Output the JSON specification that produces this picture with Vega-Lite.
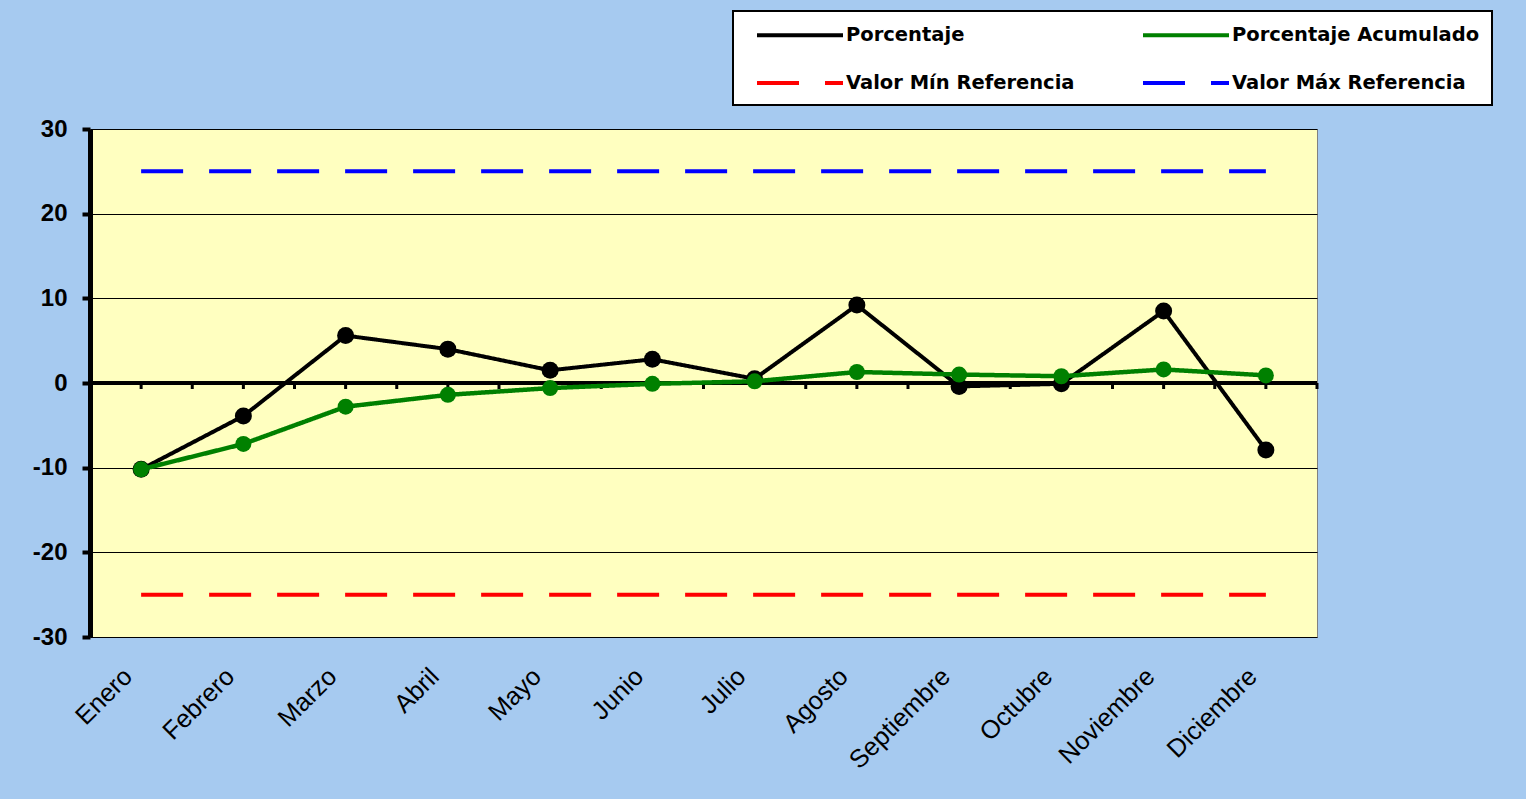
{
  "$schema": "https://vega.github.io/schema/vega-lite/v6.json",
  "width": 1227,
  "height": 508,
  "autosize": {"type": "none"},
  "padding": {"left": 90, "top": 129, "right": 209, "bottom": 162},
  "background": "#A6CAF0",
  "config": {
    "view": {"fill": "#FFFFC0", "stroke": "#808080", "strokeWidth": 1},
    "font": "Liberation Sans",
    "legend": {
      "orient": "none", "legendX": 643, "legendY": -118,
      "columns": 2, "direction": "horizontal",
      "fillColor": "#FFFFFF", "strokeColor": "#000000", "strokeWidth": 2,
      "padding": 12, "symbolType": "M-4.3,0L4.3,0", "symbolSize": 400, "symbolStrokeWidth": 4,
      "symbolOffset": 43,
      "labelFont": "DejaVu Sans", "labelFontWeight": "bold", "labelFontSize": 19.5,
      "labelColor": "#000000", "labelOffset": 34, "labelLimit": 400,
      "columnPadding": 56, "rowPadding": 26, "title": null
    }
  },
  "datasets": {
    "months": [
      {"mes": "Enero"}, {"mes": "Febrero"}, {"mes": "Marzo"}, {"mes": "Abril"},
      {"mes": "Mayo"}, {"mes": "Junio"}, {"mes": "Julio"}, {"mes": "Agosto"},
      {"mes": "Septiembre"}, {"mes": "Octubre"}, {"mes": "Noviembre"}, {"mes": "Diciembre"}
    ],
    "series": [
      {"mes": "Enero", "serie": "Porcentaje", "valor": -10.2},
      {"mes": "Febrero", "serie": "Porcentaje", "valor": -3.9},
      {"mes": "Marzo", "serie": "Porcentaje", "valor": 5.6},
      {"mes": "Abril", "serie": "Porcentaje", "valor": 4.0},
      {"mes": "Mayo", "serie": "Porcentaje", "valor": 1.5},
      {"mes": "Junio", "serie": "Porcentaje", "valor": 2.8},
      {"mes": "Julio", "serie": "Porcentaje", "valor": 0.5},
      {"mes": "Agosto", "serie": "Porcentaje", "valor": 9.2},
      {"mes": "Septiembre", "serie": "Porcentaje", "valor": -0.4},
      {"mes": "Octubre", "serie": "Porcentaje", "valor": -0.1},
      {"mes": "Noviembre", "serie": "Porcentaje", "valor": 8.5},
      {"mes": "Diciembre", "serie": "Porcentaje", "valor": -7.9},
      {"mes": "Enero", "serie": "Porcentaje Acumulado", "valor": -10.2},
      {"mes": "Febrero", "serie": "Porcentaje Acumulado", "valor": -7.2},
      {"mes": "Marzo", "serie": "Porcentaje Acumulado", "valor": -2.8},
      {"mes": "Abril", "serie": "Porcentaje Acumulado", "valor": -1.4},
      {"mes": "Mayo", "serie": "Porcentaje Acumulado", "valor": -0.6},
      {"mes": "Junio", "serie": "Porcentaje Acumulado", "valor": -0.1},
      {"mes": "Julio", "serie": "Porcentaje Acumulado", "valor": 0.2},
      {"mes": "Agosto", "serie": "Porcentaje Acumulado", "valor": 1.3},
      {"mes": "Septiembre", "serie": "Porcentaje Acumulado", "valor": 1.0},
      {"mes": "Octubre", "serie": "Porcentaje Acumulado", "valor": 0.8},
      {"mes": "Noviembre", "serie": "Porcentaje Acumulado", "valor": 1.6},
      {"mes": "Diciembre", "serie": "Porcentaje Acumulado", "valor": 0.9},
      {"mes": "Enero", "serie": "Valor Mín Referencia", "valor": -25},
      {"mes": "Febrero", "serie": "Valor Mín Referencia", "valor": -25},
      {"mes": "Marzo", "serie": "Valor Mín Referencia", "valor": -25},
      {"mes": "Abril", "serie": "Valor Mín Referencia", "valor": -25},
      {"mes": "Mayo", "serie": "Valor Mín Referencia", "valor": -25},
      {"mes": "Junio", "serie": "Valor Mín Referencia", "valor": -25},
      {"mes": "Julio", "serie": "Valor Mín Referencia", "valor": -25},
      {"mes": "Agosto", "serie": "Valor Mín Referencia", "valor": -25},
      {"mes": "Septiembre", "serie": "Valor Mín Referencia", "valor": -25},
      {"mes": "Octubre", "serie": "Valor Mín Referencia", "valor": -25},
      {"mes": "Noviembre", "serie": "Valor Mín Referencia", "valor": -25},
      {"mes": "Diciembre", "serie": "Valor Mín Referencia", "valor": -25},
      {"mes": "Enero", "serie": "Valor Máx Referencia", "valor": 25},
      {"mes": "Febrero", "serie": "Valor Máx Referencia", "valor": 25},
      {"mes": "Marzo", "serie": "Valor Máx Referencia", "valor": 25},
      {"mes": "Abril", "serie": "Valor Máx Referencia", "valor": 25},
      {"mes": "Mayo", "serie": "Valor Máx Referencia", "valor": 25},
      {"mes": "Junio", "serie": "Valor Máx Referencia", "valor": 25},
      {"mes": "Julio", "serie": "Valor Máx Referencia", "valor": 25},
      {"mes": "Agosto", "serie": "Valor Máx Referencia", "valor": 25},
      {"mes": "Septiembre", "serie": "Valor Máx Referencia", "valor": 25},
      {"mes": "Octubre", "serie": "Valor Máx Referencia", "valor": 25},
      {"mes": "Noviembre", "serie": "Valor Máx Referencia", "valor": 25},
      {"mes": "Diciembre", "serie": "Valor Máx Referencia", "valor": 25}
    ]
  },
  "encoding": {
    "x": {
      "field": "mes",
      "type": "nominal",
      "sort": ["Enero", "Febrero", "Marzo", "Abril", "Mayo", "Junio", "Julio", "Agosto", "Septiembre", "Octubre", "Noviembre", "Diciembre"],
      "scale": {"type": "band", "paddingInner": 0, "paddingOuter": 0},
      "axis": {
        "title": null, "orient": "bottom", "domain": false, "ticks": false, "grid": false,
        "labelAngle": -45, "labelAlign": "right", "labelBaseline": "middle",
        "labelFont": "Liberation Sans", "labelFontSize": 25.5, "labelColor": "#000000",
        "labelPadding": 35, "labelOffset": -13
      }
    }
  },
  "layer": [
    {
      "data": {"name": "months"},
      "mark": {"type": "rule", "color": "#000000", "strokeWidth": 4},
      "encoding": {
        "x": null,
        "y": {
          "datum": 0,
          "type": "quantitative",
          "scale": {"domain": [-30, 30], "nice": false},
          "axis": {
            "title": null, "values": [-30, -20, -10, 0, 10, 20, 30],
            "labelExpr": "'' + datum.value",
            "domain": true, "domainColor": "#000000", "domainWidth": 5,
            "ticks": true, "tickSize": 8, "tickWidth": 4, "tickColor": "#000000",
            "grid": true, "gridColor": "#000000", "gridWidth": 1,
            "labelFont": "Liberation Sans", "labelFontSize": 24, "labelFontWeight": "bold",
            "labelColor": "#000000", "labelPadding": 15
          }
        }
      }
    },
    {
      "data": {"name": "months"},
      "mark": {"type": "point", "shape": "M0,0L0,1", "size": 144, "filled": false, "stroke": "#000000", "strokeWidth": 3, "opacity": 1},
      "encoding": {
        "x": {"field": "mes", "type": "nominal", "bandPosition": 0.5, "sort": ["Enero", "Febrero", "Marzo", "Abril", "Mayo", "Junio", "Julio", "Agosto", "Septiembre", "Octubre", "Noviembre", "Diciembre"]},
        "y": {"datum": 0, "type": "quantitative"}
      }
    },
    {
      "data": {"name": "months"},
      "mark": {"type": "point", "shape": "M0,0L0,1", "size": 144, "filled": false, "stroke": "#000000", "strokeWidth": 3, "opacity": 1},
      "encoding": {
        "x": {"field": "mes", "type": "nominal", "bandPosition": 0, "sort": ["Enero", "Febrero", "Marzo", "Abril", "Mayo", "Junio", "Julio", "Agosto", "Septiembre", "Octubre", "Noviembre", "Diciembre"]},
        "y": {"datum": 0, "type": "quantitative"}
      }
    },
    {
      "data": {"name": "months"},
      "transform": [{"filter": "datum.mes === 'Diciembre'"}],
      "mark": {"type": "point", "shape": "M0,0L0,1", "size": 144, "filled": false, "stroke": "#000000", "strokeWidth": 3, "opacity": 1},
      "encoding": {
        "x": {"field": "mes", "type": "nominal", "bandPosition": 1, "sort": ["Enero", "Febrero", "Marzo", "Abril", "Mayo", "Junio", "Julio", "Agosto", "Septiembre", "Octubre", "Noviembre", "Diciembre"]},
        "y": {"datum": 0, "type": "quantitative"}
      }
    },
    {
      "data": {"name": "series"},
      "transform": [{"filter": "datum.serie === 'Valor Mín Referencia' || datum.serie === 'Valor Máx Referencia'"}],
      "mark": {"type": "line", "strokeWidth": 4},
      "encoding": {
        "y": {"field": "valor", "type": "quantitative"},
        "color": {
          "field": "serie", "type": "nominal",
          "scale": {
            "domain": ["Porcentaje", "Porcentaje Acumulado", "Valor Mín Referencia", "Valor Máx Referencia"],
            "range": ["#000000", "#008000", "#FF0000", "#0000FF"]
          },
          "legend": {"title": null}
        },
        "strokeDash": {
          "field": "serie", "type": "nominal",
          "scale": {
            "domain": ["Porcentaje", "Porcentaje Acumulado", "Valor Mín Referencia", "Valor Máx Referencia"],
            "range": [[1, 0], [1, 0], [42, 26], [42, 26]]
          },
          "legend": {"title": null}
        }
      }
    },
    {
      "data": {"name": "series"},
      "transform": [{"filter": "datum.serie === 'Porcentaje'"}],
      "mark": {"type": "line", "strokeWidth": 4},
      "encoding": {
        "y": {"field": "valor", "type": "quantitative"},
        "color": {"field": "serie", "type": "nominal", "legend": {"title": null}},
        "strokeDash": {"field": "serie", "type": "nominal", "legend": {"title": null}}
      }
    },
    {
      "data": {"name": "series"},
      "transform": [{"filter": "datum.serie === 'Porcentaje'"}],
      "mark": {"type": "point", "filled": true, "size": 289, "opacity": 1, "color": "#000000"},
      "encoding": {
        "y": {"field": "valor", "type": "quantitative"}
      }
    },
    {
      "data": {"name": "series"},
      "transform": [{"filter": "datum.serie === 'Porcentaje Acumulado'"}],
      "mark": {"type": "line", "strokeWidth": 4.5},
      "encoding": {
        "y": {"field": "valor", "type": "quantitative"},
        "color": {"field": "serie", "type": "nominal", "legend": {"title": null}},
        "strokeDash": {"field": "serie", "type": "nominal", "legend": {"title": null}}
      }
    },
    {
      "data": {"name": "series"},
      "transform": [{"filter": "datum.serie === 'Porcentaje Acumulado'"}],
      "mark": {"type": "point", "filled": true, "size": 256, "opacity": 1, "color": "#008000"},
      "encoding": {
        "y": {"field": "valor", "type": "quantitative"}
      }
    }
  ],
  "resolve": {"scale": {"color": "shared", "strokeDash": "shared"}}
}
